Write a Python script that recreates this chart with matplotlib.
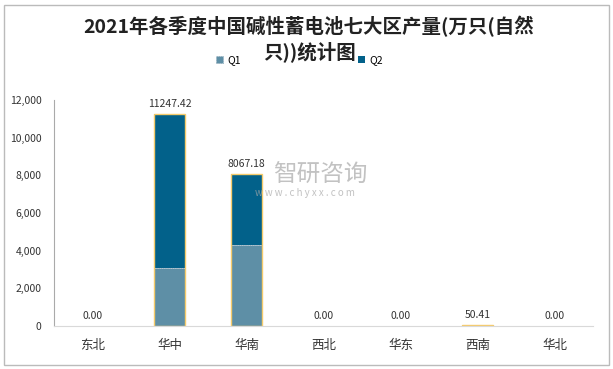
import matplotlib.pyplot as plt
import numpy as np

plt.rcParams['font.family'] = ['Noto Sans CJK SC', 'DejaVu Sans']

regions = ["东北", "华中", "华南", "西北", "华东", "西南", "华北"]
q1 = [0, 3100, 4300, 0, 0, 50.41, 0]
q2 = [0, 8147.42, 3767.18, 0, 0, 0, 0]
totals = [0.00, 11247.42, 8067.18, 0.00, 0.00, 50.41, 0.00]
yticks = [0, 2000, 4000, 6000, 8000, 10000, 12000]

fig = plt.figure(figsize=(6.13, 3.69), dpi=100)
ax = fig.add_axes([54 / 613, 1 - 326 / 369, 539 / 613, 226 / 369])

x = np.arange(len(regions))
b1 = ax.bar(x, q1, width=0.4, color="#5E8FA6", edgecolor="#8FA9B8", linewidth=0.6,
            linestyle=":", label="Q1")
b2 = ax.bar(x, q2, bottom=q1, width=0.4, color="#02618A", linewidth=0, label="Q2")
# outline of the whole stack
edges = ["#F5CB6B" if t > 0 else "none" for t in totals]
ax.bar(x, totals, width=0.4, fill=False, edgecolor=edges, linewidth=1)

for xi, t in zip(x, totals):
    ax.text(xi, t + 250, f"{t:.2f}", ha="center", va="bottom", fontsize=7.5, color="#333333")

ax.set_xlim(-0.5, len(regions) - 0.5)
ax.set_ylim(0, 12000)
ax.set_yticks(yticks)
ax.set_yticklabels([f"{v:,}" for v in yticks], fontsize=7.5, color="#333333")
ax.set_xticks(x)
ax.set_xticklabels(regions, fontsize=9, color="#333333")
ax.tick_params(length=0)
ax.tick_params(axis="y", pad=9)
ax.tick_params(axis="x", pad=9)
for s in ["top", "right"]:
    ax.spines[s].set_visible(False)
ax.spines["left"].set_color("#AAAAAA")
ax.spines["bottom"].set_color("#D9D9D9")

fig.text(308.5 / 613, 1 - 26 / 369, "2021年各季度中国碱性蓄电池七大区产量(万只(自然", ha="center", va="center",
         fontsize=14, fontweight="bold", color="#222222")
fig.text(309.5 / 613, 1 - 52 / 369, "只))统计图", ha="center", va="center",
         fontsize=14, fontweight="bold", color="#222222")

fig.legend(handles=[b1, b2], labels=["Q1", "Q2"], loc="center left", bbox_to_anchor=(216 / 613, 1 - 60 / 369),
           ncol=2, frameon=False, fontsize=7.5, handlelength=0.7, handleheight=0.7,
           handletextpad=0.4, columnspacing=11.2, borderpad=0, borderaxespad=0)

# watermark
fig.text(320 / 613, 1 - 175 / 369, "智研咨询", ha="center", va="center", fontsize=17,
         color="#A8A8A8", alpha=0.7)
fig.text(305 / 613, 1 - 193 / 369, "w w w . c h y x x . c o m", ha="center", va="center",
         fontsize=7, color="#A8A8A8", alpha=0.7)

fig.patches.append(plt.Rectangle((4 / 613, 4 / 369), 605 / 613, 360 / 369, transform=fig.transFigure,
                                 fill=False, edgecolor="#BBBBBB", linewidth=1))

fig.savefig("out.png", dpi=100)
